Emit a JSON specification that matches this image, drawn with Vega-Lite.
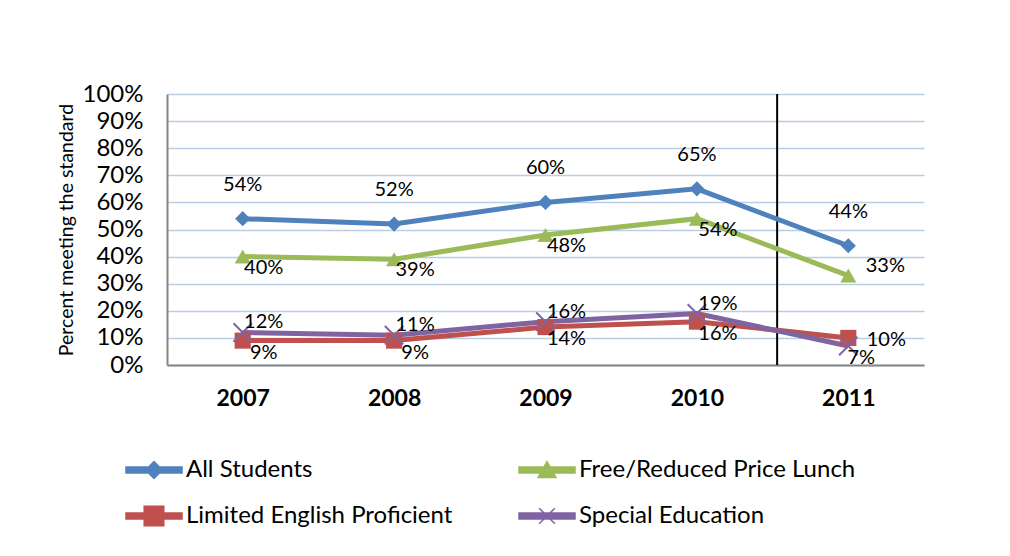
{
  "$schema": "https://vega.github.io/schema/vega-lite/v6.json",
  "width": 757,
  "height": 271,
  "autosize": {"type": "none"},
  "padding": {"left": 167, "top": 94, "right": 86, "bottom": 191},
  "background": "white",
  "config": {
    "font": "Lato",
    "view": {"stroke": null},
    "axis": {"labelFont": "Lato", "titleFont": "Lato", "labelColor": "black", "titleColor": "black"},
    "legend": {"labelFont": "Lato"}
  },
  "data": {
    "values": [
      {"year": 2007, "series": "All Students", "value": 0.54},
      {"year": 2008, "series": "All Students", "value": 0.52},
      {"year": 2009, "series": "All Students", "value": 0.60},
      {"year": 2010, "series": "All Students", "value": 0.65},
      {"year": 2011, "series": "All Students", "value": 0.44},
      {"year": 2007, "series": "Free/Reduced Price Lunch", "value": 0.40},
      {"year": 2008, "series": "Free/Reduced Price Lunch", "value": 0.39},
      {"year": 2009, "series": "Free/Reduced Price Lunch", "value": 0.48},
      {"year": 2010, "series": "Free/Reduced Price Lunch", "value": 0.54},
      {"year": 2011, "series": "Free/Reduced Price Lunch", "value": 0.33},
      {"year": 2007, "series": "Limited English Proficient", "value": 0.09},
      {"year": 2008, "series": "Limited English Proficient", "value": 0.09},
      {"year": 2009, "series": "Limited English Proficient", "value": 0.14},
      {"year": 2010, "series": "Limited English Proficient", "value": 0.16},
      {"year": 2011, "series": "Limited English Proficient", "value": 0.10},
      {"year": 2007, "series": "Special Education", "value": 0.12},
      {"year": 2008, "series": "Special Education", "value": 0.11},
      {"year": 2009, "series": "Special Education", "value": 0.16},
      {"year": 2010, "series": "Special Education", "value": 0.19},
      {"year": 2011, "series": "Special Education", "value": 0.07}
    ]
  },
  "encoding": {
    "x": {
      "field": "year", "type": "quantitative",
      "scale": {"domain": [2006.5, 2011.5], "nice": false, "zero": false},
      "axis": {
        "title": null, "values": [2007, 2008, 2009, 2010, 2011], "format": "d",
        "grid": false, "ticks": false, "domainColor": "#868686", "domainWidth": 2,
        "labelFontSize": 23, "labelFontWeight": "bold", "labelPadding": 22, "labelFlush": false
      }
    },
    "y": {
      "field": "value", "type": "quantitative",
      "scale": {"domain": [0, 1], "nice": false},
      "axis": {
        "title": "Percent meeting the standard", "titleFontSize": 19.5, "titleFontWeight": "normal", "titlePadding": 6,
        "values": [0, 0.1, 0.2, 0.3, 0.4, 0.5, 0.6, 0.7, 0.8, 0.9, 1], "format": ".0%",
        "grid": true, "gridColor": "#b9cde5", "gridWidth": 1.5,
        "ticks": false, "domainColor": "#868686", "domainWidth": 2,
        "labelFontSize": 24, "labelPadding": 24, "labelBaseline": "middle"
      }
    }
  },
  "layer": [
    {
      "data": {"values": [{"divider": 2010.53}]},
      "mark": {"type": "rule", "color": "black", "strokeWidth": 2},
      "encoding": {"x": {"field": "divider", "type": "quantitative"}, "y": null}
    },
    {
      "mark": {"type": "line", "strokeWidth": 5},
      "encoding": {
        "color": {
          "field": "series", "type": "nominal",
          "scale": {
            "domain": ["All Students", "Free/Reduced Price Lunch", "Limited English Proficient", "Special Education"],
            "range": ["#4f81bd", "#9bbb59", "#c0504d", "#8064a2"]
          },
          "legend": {
            "title": null, "orient": "none", "legendX": -42, "legendY": 347, "direction": "horizontal",
            "columns": 2, "columnPadding": 63, "rowPadding": 5,
            "labelFontSize": 24, "labelColor": "black", "labelOffset": 3, "labelLimit": 500,
            "symbolSize": 3136,
            "encode": {
              "symbols": {
                "update": {
                  "shape": {"signal": "datum.value === 'All Students' ? 'M-1,-0.11L-0.19,-0.11L0,-0.3L0.19,-0.11L1,-0.11L1,0.11L0.19,0.11L0,0.3L-0.19,0.11L-1,0.11Z' : datum.value === 'Free/Reduced Price Lunch' ? 'M-1,-0.11H1V0.11H-1Z M0,-0.3L0.32,0.27L-0.32,0.27Z' : datum.value === 'Limited English Proficient' ? 'M-1,-0.11H1V0.11H-1Z M-0.35,-0.35H0.35V0.35H-0.35Z' : 'M-1,-0.11H1V0.11H-1Z M-0.28,-0.28L0.28,0.28M-0.28,0.28L0.28,-0.28'"},
                  "fill": {"scale": "color", "field": "value"},
                  "stroke": {"scale": "color", "field": "value"},
                  "strokeWidth": {"value": 1.5},
                  "opacity": {"value": 1}
                }
              }
            }
          }
        }
      }
    },
    {
      "transform": [{"filter": "datum.series === 'All Students'"}],
      "mark": {"type": "point", "shape": "diamond", "filled": true, "size": 230, "color": "#4f81bd", "opacity": 1}
    },
    {
      "transform": [{"filter": "datum.series === 'Free/Reduced Price Lunch'"}],
      "mark": {"type": "point", "shape": "triangle-up", "filled": true, "size": 260, "color": "#9bbb59", "opacity": 1}
    },
    {
      "transform": [{"filter": "datum.series === 'Limited English Proficient'"}],
      "mark": {"type": "point", "shape": "square", "filled": true, "size": 260, "color": "#c0504d", "opacity": 1}
    },
    {
      "transform": [{"filter": "datum.series === 'Special Education'"}],
      "mark": {"type": "point", "shape": "M-1,-1L1,1M-1,1L1,-1", "filled": false, "size": 340, "color": "#8064a2", "strokeWidth": 2, "opacity": 1}
    },
    {
      "transform": [{"filter": "datum.series === 'All Students'"}],
      "mark": {"type": "text", "fontSize": 20, "dy": -34, "baseline": "middle", "color": "black"},
      "encoding": {"text": {"field": "value", "type": "quantitative", "format": ".0%"}}
    },
    {
      "transform": [{"filter": "datum.series === 'Free/Reduced Price Lunch' && datum.year < 2011"}],
      "mark": {"type": "text", "fontSize": 20, "dx": 21, "dy": 11, "baseline": "middle", "color": "black"},
      "encoding": {"text": {"field": "value", "type": "quantitative", "format": ".0%"}}
    },
    {
      "transform": [{"filter": "datum.series === 'Free/Reduced Price Lunch' && datum.year === 2011"}],
      "mark": {"type": "text", "fontSize": 20, "dx": 37, "dy": -10, "baseline": "middle", "color": "black"},
      "encoding": {"text": {"field": "value", "type": "quantitative", "format": ".0%"}}
    },
    {
      "transform": [{"filter": "datum.series === 'Limited English Proficient' && datum.year < 2011"}],
      "mark": {"type": "text", "fontSize": 20, "dx": 21, "dy": 12, "baseline": "middle", "color": "black"},
      "encoding": {"text": {"field": "value", "type": "quantitative", "format": ".0%"}}
    },
    {
      "transform": [{"filter": "datum.series === 'Limited English Proficient' && datum.year === 2011"}],
      "mark": {"type": "text", "fontSize": 20, "dx": 38, "dy": 2, "baseline": "middle", "color": "black"},
      "encoding": {"text": {"field": "value", "type": "quantitative", "format": ".0%"}}
    },
    {
      "transform": [{"filter": "datum.series === 'Special Education' && datum.year < 2011"}],
      "mark": {"type": "text", "fontSize": 20, "dx": 21, "dy": -10, "baseline": "middle", "color": "black"},
      "encoding": {"text": {"field": "value", "type": "quantitative", "format": ".0%"}}
    },
    {
      "transform": [{"filter": "datum.series === 'Special Education' && datum.year === 2011"}],
      "mark": {"type": "text", "fontSize": 20, "dx": 13, "dy": 12, "baseline": "middle", "color": "black"},
      "encoding": {"text": {"field": "value", "type": "quantitative", "format": ".0%"}}
    }
  ]
}
